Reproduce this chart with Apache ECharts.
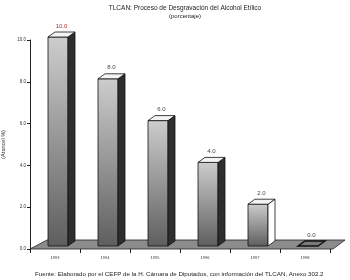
<!DOCTYPE html>
<html><head><meta charset="utf-8">
<script src="https://cdn.jsdelivr.net/npm/echarts@6/dist/echarts.min.js"></script>
<style>html,body{margin:0;padding:0;background:#fff}#c{width:350px;height:280px}</style>
</head><body><div id="c"></div>
<script>
const categories = ['1993','1994','1995','1996','1997','1998'];
const values = [10.0, 8.0, 6.0, 4.0, 2.0, 0.0];
const valueLabels = ['10.0','8.0','6.0','4.0','2.0','0.0'];
const yTicks = [0, 2, 4, 6, 8, 10];
const titleText = 'TLCAN: Proceso de Desgravación del Alcohol Etílico';
const subtitleText = '(porcentaje)';
const yName = '(Arancel %)';
const sourceText = 'Fuente: Elaborado por el CEFP de la H. Cámara de Diputados, con información del TLCAN, Anexo 302.2';

const chart = echarts.init(document.getElementById('c'), null, {renderer:'canvas'});
const DX = 7, DY = -5, LIFT = 3;

function renderBar(params, api){
  const idx = api.value(0), v = api.value(1);
  const top = api.coord([idx, v]);
  const base = api.coord([idx, 0]);
  const w = 20;
  const cx = top[0] + 3;
  const x0 = cx - w/2, x1 = cx + w/2;
  const ty = top[1] - LIFT, by = base[1] - LIFT;
  const children = [];
  const sideWhite = idx === 4;
  if (by - ty > 0.5) {
    children.push({type:'rect', shape:{x:x0, y:ty, width:w, height:by-ty},
      style:{fill:new echarts.graphic.LinearGradient(0,0,0,1,[{offset:0,color:'#cdcdcd'},{offset:1,color:'#5e5e5e'}]), stroke:'#111', lineWidth:0.8}});
    children.push({type:'polygon', shape:{points:[[x1,ty],[x1+DX,ty+DY],[x1+DX,by+DY],[x1,by]]},
      style:{fill: sideWhite ? '#ffffff' : '#2e2e2e', stroke:'#111', lineWidth:0.8}});
    children.push({type:'polygon', shape:{points:[[x0,ty],[x0+DX,ty+DY],[x1+DX,ty+DY],[x1,ty]]},
      style:{fill:'#f4f4f4', stroke:'#111', lineWidth:0.8}});
  } else {
    children.push({type:'polygon', shape:{points:[[x0,ty],[x0+DX,ty+DY],[x1+DX,ty+DY],[x1,ty]]},
      style:{fill:'#7a7a7a', stroke:'#111', lineWidth:1.4}});
  }
  children.push({type:'text', style:{text:valueLabels[idx], x:cx+DX/2, y:ty+DY-3, align:'center', verticalAlign:'bottom',
    fontSize:6, fontFamily:'Liberation Sans', fill: idx===0 ? '#b02a2a' : '#444'}});
  return {type:'group', children};
}

function renderFloor(params, api){
  const cs = params.coordSys;
  const yb = cs.y + cs.height;
  const xl = cs.x, xr = cs.x + cs.width + 3;
  return {type:'polygon', shape:{points:[[xl,yb],[xl+17,yb-9],[xr+12,yb-9],[xr,yb]]},
    style:{fill:'#8c8c8c', stroke:'#222', lineWidth:0.8}};
}

chart.setOption({
  animation:false,
  title:[
    {text:titleText, subtext:subtitleText, left:180, top:0, textAlign:'center', itemGap:1,
     textStyle:{fontSize:6.5, fontWeight:'normal', color:'#222', fontFamily:'Liberation Sans'},
     subtextStyle:{fontSize:6, color:'#222', fontFamily:'Liberation Sans'}},
    {text:sourceText, left:30, top:266,
     textStyle:{fontSize:6.2, fontWeight:'normal', color:'#222', fontFamily:'Liberation Sans'}}
  ],
  grid:{left:30, right:20, top:40, bottom:31, containLabel:false, outerBoundsMode:'none'},
  xAxis:{type:'category', data:categories, boundaryGap:true,
    axisLine:{show:false},
    axisTick:{show:true, length:4, lineStyle:{color:'#222'}},
    axisLabel:{fontSize:4, color:'#333', margin:7, fontFamily:'Liberation Sans'}},
  yAxis:{type:'value', min:0, max:10, interval:2, name:yName, nameLocation:'middle', nameGap:19, nameRotate:90,
    nameTextStyle:{fontSize:5.5, color:'#333', fontFamily:'Liberation Sans'},
    axisLine:{show:true, lineStyle:{color:'#222', width:1}},
    axisTick:{show:true, length:3, lineStyle:{color:'#222'}},
    splitLine:{show:false},
    axisLabel:{fontSize:4.5, color:'#333', margin:4, fontFamily:'Liberation Sans',
      formatter:v => yTicks.includes(v) ? v.toFixed(1) : ''}},
  series:[
    {type:'custom', renderItem:renderFloor, data:[[0,0]], z:1, silent:true, clip:false},
    {type:'custom', renderItem:renderBar, data:values.map((v,i)=>[i,v]), z:2, clip:false}
  ]
});
</script></body></html>
